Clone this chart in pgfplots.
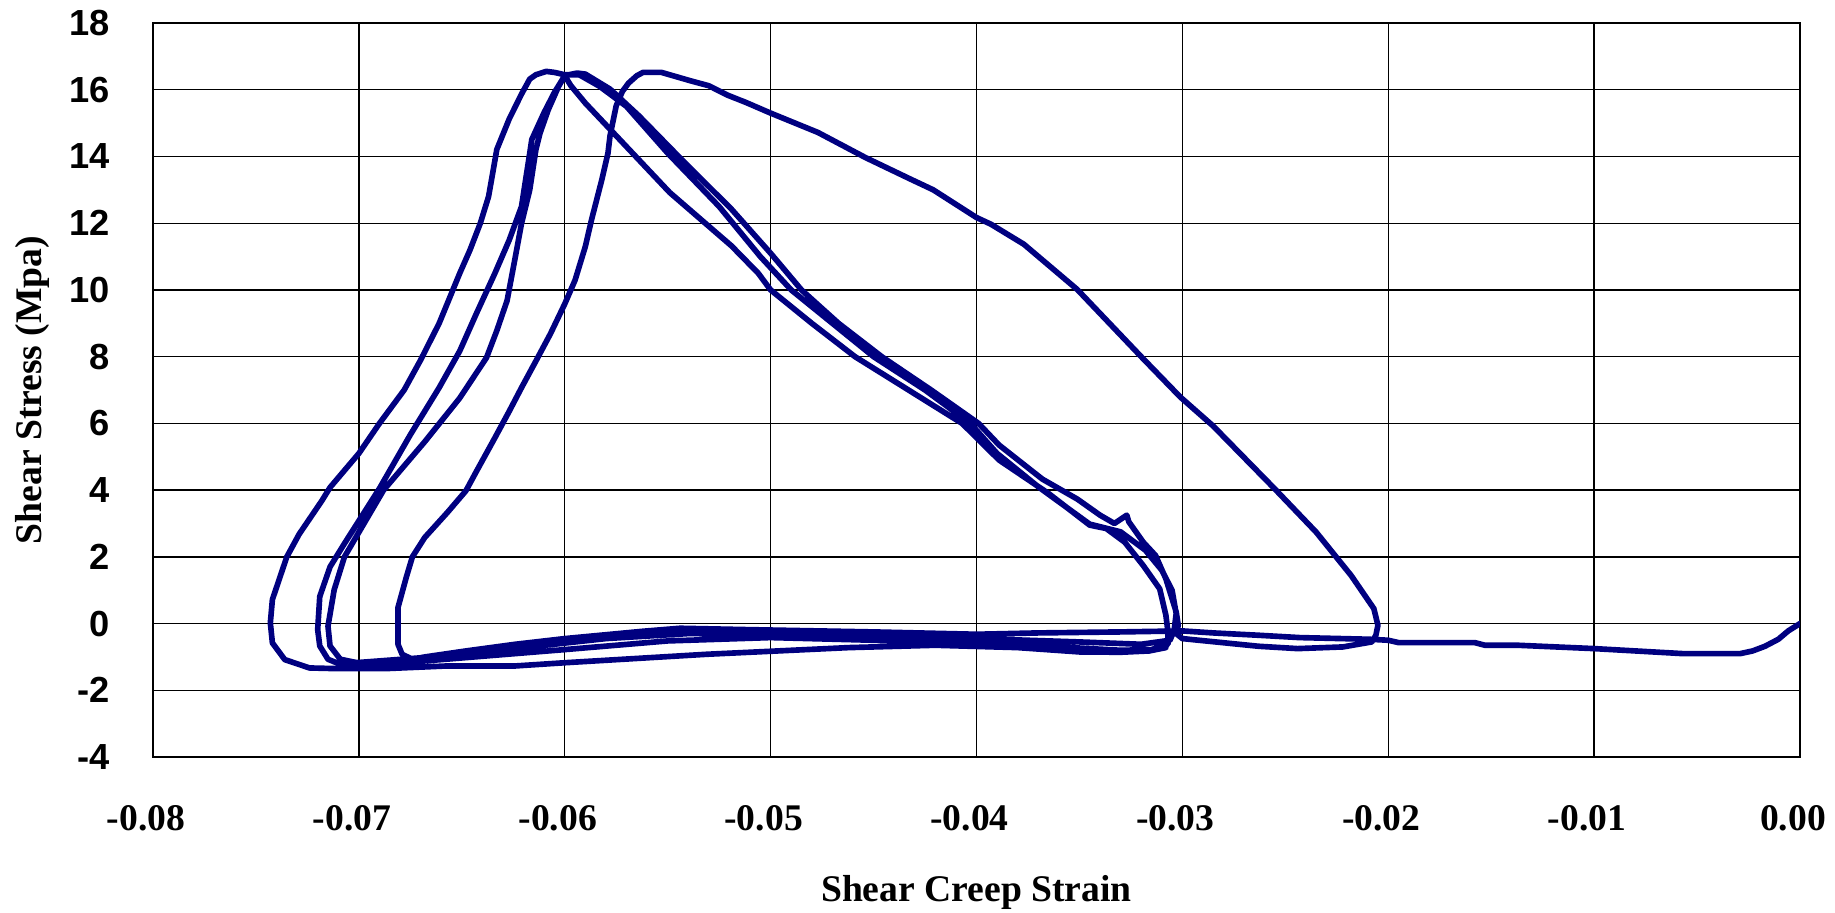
\documentclass[border=0pt]{standalone}
\usepackage{fontspec}
\setmainfont{Liberation Serif}
\newfontfamily\arialfont{Liberation Sans}
\usepackage{pgfplots}
\pgfplotsset{compat=1.18}
\definecolor{navyline}{RGB}{0,0,128}
\begin{document}
\begin{tikzpicture}
\useasboundingbox (-2.001cm,-2.027cm) rectangle (21.999cm,9.901cm);
\begin{axis}[
  scale only axis, width=21.541cm, height=9.600cm,
  at={(0,0)}, anchor=south west,
  xmin=-0.08, xmax=0, ymin=-4, ymax=18,
  xtick={-0.08,-0.07,-0.06,-0.05,-0.04,-0.03,-0.02,-0.01,0},
  xticklabels={-0.08,-0.07,-0.06,-0.05,-0.04,-0.03,-0.02,-0.01,0.00},
  ytick={-4,-2,0,2,4,6,8,10,12,14,16,18},
  yticklabels={-4,-2,0,2,4,6,8,10,12,14,16,18},
  scaled ticks=false,
  grid=major, grid style={black, line width=0.5pt},
  axis line style={black, line width=0.6pt},
  tick style={black, line width=0.5pt}, major tick length=4.5pt,
  tick align=inside, tick pos=left,
  xticklabel style={font=\fontsize{14}{14}\selectfont\bfseries, anchor=north, inner sep=0pt, yshift=-17.8pt, xshift=-2.6pt},
  yticklabel style={font=\arialfont\fontsize{13.5}{13.5}\selectfont\bfseries, anchor=east, inner sep=0pt, xshift=-15.9pt},
  xlabel={Shear Creep Strain},
  ylabel={Shear Stress (Mpa)},
  xlabel style={font=\fontsize{14}{14}\selectfont\bfseries, at={(axis description cs:0.5,-0.1963)}, anchor=base},
  ylabel style={font=\fontsize{14}{14}\selectfont\bfseries, at={(axis description cs:-0.0676,0.5)}, anchor=base},
]
\addplot[navyline, line width=2.1pt, line join=round, line cap=round] coordinates {
(0,0) (-0.00057,-0.22) (-0.00105,-0.47) (-0.0017,-0.68) (-0.0023,-0.82) (-0.0029,-0.9)
(-0.0057,-0.9) (-0.0100,-0.75) (-0.0137,-0.65) (-0.0153,-0.65) (-0.0158,-0.57) (-0.0195,-0.57)
(-0.0200,-0.5) (-0.0209,-0.47) (-0.0243,-0.42) (-0.0263,-0.35) (-0.0285,-0.28) (-0.0300,-0.22)
(-0.0330,-0.25) (-0.0370,-0.28) (-0.0400,-0.32) (-0.0450,-0.25) (-0.0512,-0.18) (-0.0544,-0.14)
(-0.0562,-0.23) (-0.0600,-0.45) (-0.0624,-0.62) (-0.0648,-0.82) (-0.0668,-1.0) (-0.0674,-1.07)
(-0.0679,-0.92) (-0.0681,-0.62) (-0.0681,0.48) (-0.0677,1.38) (-0.0674,2.0) (-0.0668,2.58)
(-0.0657,3.33) (-0.0648,3.98) (-0.0643,4.55) (-0.0634,5.56) (-0.0627,6.36) (-0.0621,7.07)
(-0.0614,7.87) (-0.0607,8.68) (-0.0600,9.58) (-0.0595,10.29) (-0.0590,11.3) (-0.0587,12.1)
(-0.0582,13.3) (-0.0579,14.1) (-0.0578,14.62) (-0.0575,15.52) (-0.0572,15.95) (-0.0569,16.2)
(-0.0565,16.42) (-0.0562,16.52) (-0.0553,16.52) (-0.0539,16.27) (-0.0530,16.12) (-0.0521,15.84)
(-0.0512,15.62) (-0.0500,15.3) (-0.0477,14.72) (-0.0454,13.97) (-0.0432,13.32) (-0.0421,13.0)
(-0.0400,12.17) (-0.0393,11.97) (-0.0377,11.37) (-0.0351,10.01) (-0.0320,8.0) (-0.0301,6.79)
(-0.0285,5.92) (-0.0255,4.03) (-0.0235,2.74) (-0.0218,1.44) (-0.0207,0.45) (-0.0205,-0.05)
(-0.0206,-0.35) (-0.0208,-0.55) (-0.0222,-0.7) (-0.0244,-0.75) (-0.0263,-0.68) (-0.0300,-0.45)
(-0.0303,-0.3) (-0.0302,-0.05) (-0.0303,0.35) (-0.0308,1.34) (-0.0313,2.04) (-0.0319,2.44)
(-0.0326,3.05) (-0.0327,3.25) (-0.0333,3.0) (-0.0340,3.25) (-0.0351,3.73) (-0.0368,4.33)
(-0.0389,5.35) (-0.0399,6.0) (-0.0422,7.0) (-0.0446,8.0) (-0.0467,9.0) (-0.0485,10.0)
(-0.0500,11.1) (-0.0519,12.42) (-0.0545,14.02) (-0.0564,15.22) (-0.0578,16.02) (-0.0590,16.47)
(-0.0594,16.5) (-0.0598,16.45) (-0.0600,16.42)
(-0.0605,15.92) (-0.0610,15.32) (-0.0616,14.51) (-0.0617,14.1) (-0.0619,13.3) (-0.0621,12.5)
(-0.0627,11.49) (-0.0634,10.49) (-0.0643,9.28) (-0.0651,8.17) (-0.0661,7.07) (-0.0675,5.66)
(-0.0690,4.05) (-0.0707,2.4) (-0.0714,1.7) (-0.0719,0.81) (-0.0720,-0.18) (-0.0719,-0.67)
(-0.0715,-1.07) (-0.0707,-1.27)
(-0.0680,-1.18) (-0.0640,-0.98) (-0.0600,-0.78) (-0.0550,-0.52) (-0.0500,-0.42) (-0.0450,-0.5)
(-0.0400,-0.58) (-0.0360,-0.7) (-0.0330,-0.8) (-0.0315,-0.78) (-0.0307,-0.62)
(-0.0307,-0.25) (-0.0308,0.25) (-0.0311,1.04) (-0.0319,1.74) (-0.0328,2.44) (-0.0337,2.85)
(-0.0345,2.95) (-0.0365,3.9) (-0.0389,4.9) (-0.0407,6.0) (-0.0433,7.0) (-0.0459,8.0)
(-0.0480,9.0) (-0.0500,10.0) (-0.0506,10.5) (-0.0519,11.32) (-0.0549,12.92) (-0.0575,14.62)
(-0.0590,15.6) (-0.0597,16.12) (-0.0600,16.42)
(-0.0603,16.1) (-0.0608,15.4) (-0.0612,14.7) (-0.0614,14.21) (-0.0617,13.0) (-0.0621,11.99)
(-0.0624,10.99) (-0.0628,9.68) (-0.0633,8.78) (-0.0638,7.97) (-0.0651,6.76) (-0.0668,5.45)
(-0.0688,4.0) (-0.0707,2.0) (-0.0712,1.01) (-0.0715,-0.08) (-0.0714,-0.67) (-0.0709,-1.07)
(-0.0701,-1.17)
(-0.0660,-0.98) (-0.0620,-0.72) (-0.0580,-0.45) (-0.0540,-0.3) (-0.0500,-0.32) (-0.0450,-0.4)
(-0.0400,-0.45) (-0.0350,-0.55) (-0.0320,-0.62) (-0.0306,-0.5) (-0.0304,-0.2)
(-0.0303,0.3) (-0.0305,1.0) (-0.0310,1.6) (-0.0318,2.2) (-0.0330,2.75) (-0.0345,2.98)
(-0.0370,4.1) (-0.0390,5.1) (-0.0403,6.0) (-0.0425,7.0) (-0.0450,8.0) (-0.0470,9.0)
(-0.0490,10.0) (-0.0505,11.0) (-0.0525,12.5) (-0.0550,14.1) (-0.0570,15.5) (-0.0583,16.1)
(-0.0593,16.45) (-0.0600,16.45) (-0.0605,16.52) (-0.0609,16.55) (-0.0614,16.45) (-0.0617,16.32)
(-0.0621,15.87) (-0.0627,15.12) (-0.0633,14.21) (-0.0635,13.5) (-0.0637,12.8) (-0.0641,12.0)
(-0.0646,11.2) (-0.0651,10.5) (-0.0655,9.9) (-0.0661,9.0) (-0.0670,7.9) (-0.0678,7.0)
(-0.0690,6.0) (-0.0700,5.1) (-0.0714,4.08) (-0.0718,3.68) (-0.0729,2.68) (-0.0735,2.0)
(-0.0742,0.72) (-0.0743,0.02) (-0.0742,-0.58) (-0.0736,-1.08) (-0.0724,-1.33) (-0.0711,-1.35)
(-0.0687,-1.35) (-0.0657,-1.27) (-0.0624,-1.27) (-0.0599,-1.17) (-0.0531,-0.92) (-0.0462,-0.72)
(-0.0420,-0.65) (-0.0380,-0.72) (-0.0350,-0.85) (-0.0330,-0.86) (-0.0316,-0.82) (-0.0308,-0.72)
};
\end{axis}
\end{tikzpicture}
\end{document}
